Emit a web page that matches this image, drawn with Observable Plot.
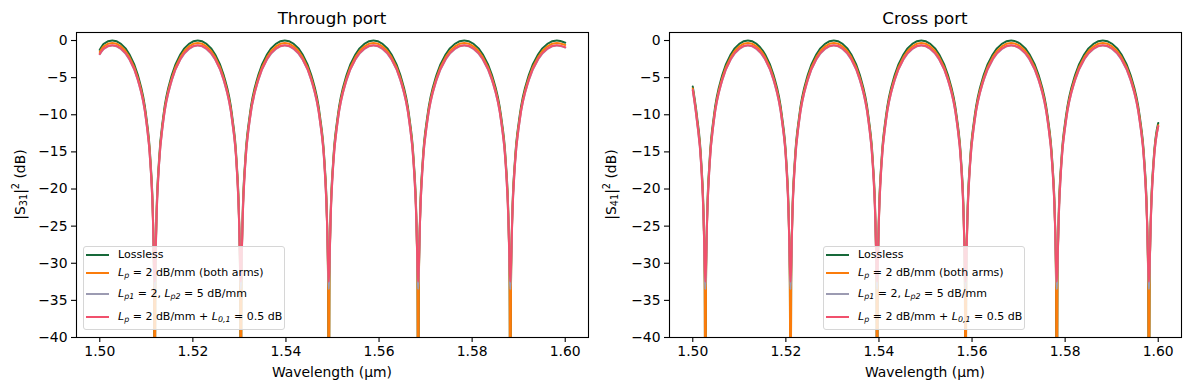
<!DOCTYPE html>
<html>
<head>
<meta charset="utf-8">
<script src="https://cdn.jsdelivr.net/npm/d3@7"></script>
<script src="https://cdn.jsdelivr.net/npm/@observablehq/plot@0.6"></script>
<style>
  html, body { margin: 0; padding: 0; background: #fff; }
  body { font-family: "DejaVu Sans", sans-serif; }
  #wrap { position: relative; width: 1189px; height: 390px; overflow: hidden; }
  .panel { position: absolute; top: 0; }
  .legend { position: absolute; width: 202px; height: 84px; box-sizing: border-box;
            background: rgba(255,255,255,0.8); border: 1px solid #d6d6d6; border-radius: 3px;
            font-size: 11px; color: #000; }
  .legend .row { position: absolute; left: 0; height: 0; }
  .legend .h { position: absolute; left: 2px; width: 23px; height: 2px; top: -1px; }
  .legend .t { position: absolute; left: 34px; top: -7px; white-space: nowrap; line-height: 13px; }
  .legend sub { font-size: 72%; vertical-align: -0.3em; line-height: 0; font-style: italic; }
</style>
</head>
<body>
<div id="wrap"></div>
<script>
// ---------- categories / labels ----------
const seriesNames = ["Lossless", "Lp = 2 dB/mm (both arms)", "Lp1 = 2, Lp2 = 5 dB/mm", "Lp = 2 dB/mm + L0,1 = 0.5 dB"];
const seriesLegendHtml = [
  "Lossless",
  "<i>L</i><sub>p</sub> = 2 dB/mm (both arms)",
  "<i>L</i><sub>p1</sub> = 2, <i>L</i><sub>p2</sub> = 5 dB/mm",
  "<i>L</i><sub>p</sub> = 2 dB/mm + <i>L</i><sub>0,1</sub> = 0.5 dB"
];
const seriesColors = ["#17693a", "#fb7c0b", "#9c9bb2", "#f1506c"];
const panelTitles = ["Through port", "Cross port"];
const yLabelSubs = ["31", "41"];
const xLabel = "Wavelength (\u00b5m)";
const xTicks = [1.50, 1.52, 1.54, 1.56, 1.58, 1.60];
const yTicks = [0, -5, -10, -15, -20, -25, -30, -35, -40];

// ---------- Through port (|S31|^2) ----------
const wlThrough = [
  1.5000, 1.50088, 1.5027, 1.50452, 1.50634, 1.50816, 1.50998, 1.51089, 1.51144, 1.51166,
  1.5118, 1.51194, 1.51217, 1.51273, 1.51365, 1.5155, 1.51735, 1.5192, 1.52105, 1.5229, 1.52475, 1.5266, 1.52845, 1.52938, 1.52993, 1.53016,
  1.5303, 1.53044, 1.53068, 1.53125, 1.53219, 1.53408, 1.53597, 1.53786, 1.53975, 1.54164, 1.54353, 1.54542, 1.54731, 1.54826, 1.54882, 1.54906,
  1.5492, 1.54934, 1.54958, 1.55016, 1.55112, 1.55304, 1.55496, 1.55688, 1.5588, 1.56072, 1.56264, 1.56456, 1.56648, 1.56744, 1.56802, 1.56826,
  1.5684, 1.56855, 1.5688, 1.56939, 1.57038, 1.57236, 1.57434, 1.57632, 1.5783, 1.58028, 1.58226, 1.58424, 1.58622, 1.58721, 1.5878, 1.58805,
  1.5882, 1.58835, 1.5886, 1.5892, 1.5902, 1.5922, 1.5942, 1.5962, 1.5982, 1.6000
];
const s31Lossless = [
  -1.25, -0.44, 0, -0.44, -1.84, -4.62, -10.2, -16.1, -24.0, -32.6,
  -60, -32.6, -24.0, -16.1, -10.2, -4.62, -1.84, -0.44, 0, -0.44, -1.84, -4.62, -10.2, -16.1, -24.0, -32.6,
  -60, -32.6, -24.0, -16.1, -10.2, -4.62, -1.84, -0.44, 0, -0.44, -1.84, -4.62, -10.2, -16.1, -24.0, -32.6,
  -60, -32.6, -24.0, -16.1, -10.2, -4.62, -1.84, -0.44, 0, -0.44, -1.84, -4.62, -10.2, -16.1, -24.0, -32.6,
  -60, -32.6, -24.0, -16.1, -10.2, -4.62, -1.84, -0.44, 0, -0.44, -1.84, -4.62, -10.2, -16.1, -24.0, -32.6,
  -60, -32.6, -24.0, -16.1, -10.2, -4.62, -1.84, -0.44, 0, -0.3
];
const s31LossBoth = [
  -1.55, -0.79, -0.35, -0.79, -2.19, -4.97, -10.55, -16.45, -24.35, -32.95,
  -60, -32.95, -24.35, -16.45, -10.55, -4.97, -2.19, -0.79, -0.35, -0.79, -2.19, -4.97, -10.55, -16.45, -24.35, -32.95,
  -60, -32.95, -24.35, -16.45, -10.55, -4.97, -2.19, -0.79, -0.35, -0.79, -2.19, -4.97, -10.55, -16.45, -24.35, -32.95,
  -60, -32.95, -24.35, -16.45, -10.55, -4.97, -2.19, -0.79, -0.35, -0.79, -2.19, -4.97, -10.55, -16.45, -24.35, -32.95,
  -60, -32.95, -24.35, -16.45, -10.55, -4.97, -2.19, -0.79, -0.35, -0.79, -2.19, -4.97, -10.55, -16.45, -24.35, -32.95,
  -60, -32.95, -24.35, -16.45, -10.55, -4.97, -2.19, -0.79, -0.35, -0.6
];
const s31LossUnequal = [
  -1.85, -1.12, -0.68, -1.12, -2.52, -5.30, -10.88, -16.78, -24.5, -31.0,
  -33.5, -31.0, -24.5, -16.78, -10.88, -5.30, -2.52, -1.12, -0.68, -1.12, -2.52, -5.30, -10.88, -16.78, -24.5, -31.0,
  -33.5, -31.0, -24.5, -16.78, -10.88, -5.30, -2.52, -1.12, -0.68, -1.12, -2.52, -5.30, -10.88, -16.78, -24.5, -31.0,
  -33.5, -31.0, -24.5, -16.78, -10.88, -5.30, -2.52, -1.12, -0.68, -1.12, -2.52, -5.30, -10.88, -16.78, -24.5, -31.0,
  -33.5, -31.0, -24.5, -16.78, -10.88, -5.30, -2.52, -1.12, -0.68, -1.12, -2.52, -5.30, -10.88, -16.78, -24.5, -31.0,
  -33.5, -31.0, -24.5, -16.78, -10.88, -5.30, -2.52, -1.12, -0.68, -0.95
];
const s31LossCoupler = [
  -1.8, -1.07, -0.63, -1.07, -2.47, -5.25, -10.83, -16.73, -24.4, -30.5,
  -32.5, -30.5, -24.4, -16.73, -10.83, -5.25, -2.47, -1.07, -0.63, -1.07, -2.47, -5.25, -10.83, -16.73, -24.4, -30.5,
  -32.5, -30.5, -24.4, -16.73, -10.83, -5.25, -2.47, -1.07, -0.63, -1.07, -2.47, -5.25, -10.83, -16.73, -24.4, -30.5,
  -32.5, -30.5, -24.4, -16.73, -10.83, -5.25, -2.47, -1.07, -0.63, -1.07, -2.47, -5.25, -10.83, -16.73, -24.4, -30.5,
  -32.5, -30.5, -24.4, -16.73, -10.83, -5.25, -2.47, -1.07, -0.63, -1.07, -2.47, -5.25, -10.83, -16.73, -24.4, -30.5,
  -32.5, -30.5, -24.4, -16.73, -10.83, -5.25, -2.47, -1.07, -0.63, -0.9
];

// ---------- Cross port (|S41|^2) ----------
const wlCross = [
  1.5000, 1.5009, 1.5018, 1.50234, 1.50257,
  1.5027, 1.50284, 1.50307, 1.50362, 1.50453, 1.50636, 1.50819, 1.51002, 1.51185, 1.51368, 1.51551, 1.51734, 1.51917, 1.52009, 1.52063, 1.52086,
  1.521, 1.52114, 1.52137, 1.52193, 1.52286, 1.52472, 1.52658, 1.52844, 1.5303, 1.53216, 1.53402, 1.53588, 1.53774, 1.53867, 1.53923, 1.53946,
  1.5396, 1.53974, 1.53998, 1.54055, 1.5415, 1.5434, 1.5453, 1.5472, 1.5491, 1.551, 1.5529, 1.5548, 1.5567, 1.55765, 1.55822, 1.55846,
  1.5586, 1.55875, 1.55899, 1.55958, 1.56056, 1.56252, 1.56448, 1.56644, 1.5684, 1.57036, 1.57232, 1.57428, 1.57624, 1.57722, 1.57781, 1.57805,
  1.5782, 1.57835, 1.5786, 1.57919, 1.58018, 1.58216, 1.58414, 1.58612, 1.5881, 1.59008, 1.59206, 1.59404, 1.59602, 1.59701, 1.5976, 1.59785,
  1.598, 1.59815, 1.5984, 1.599, 1.6000
];
const s41Lossless = [
  -6.2, -10.2, -16.1, -24.0, -32.6,
  -60, -32.6, -24.0, -16.1, -10.2, -4.62, -1.84, -0.44, 0, -0.44, -1.84, -4.62, -10.2, -16.1, -24.0, -32.6,
  -60, -32.6, -24.0, -16.1, -10.2, -4.62, -1.84, -0.44, 0, -0.44, -1.84, -4.62, -10.2, -16.1, -24.0, -32.6,
  -60, -32.6, -24.0, -16.1, -10.2, -4.62, -1.84, -0.44, 0, -0.44, -1.84, -4.62, -10.2, -16.1, -24.0, -32.6,
  -60, -32.6, -24.0, -16.1, -10.2, -4.62, -1.84, -0.44, 0, -0.44, -1.84, -4.62, -10.2, -16.1, -24.0, -32.6,
  -60, -32.6, -24.0, -16.1, -10.2, -4.62, -1.84, -0.44, 0, -0.44, -1.84, -4.62, -10.2, -16.1, -24.0, -32.6,
  -60, -32.6, -24.0, -16.1, -11.1
];
const s41LossBoth = [
  -6.45, -10.55, -16.45, -24.35, -32.95,
  -60, -32.95, -24.35, -16.45, -10.55, -4.97, -2.19, -0.79, -0.35, -0.79, -2.19, -4.97, -10.55, -16.45, -24.35, -32.95,
  -60, -32.95, -24.35, -16.45, -10.55, -4.97, -2.19, -0.79, -0.35, -0.79, -2.19, -4.97, -10.55, -16.45, -24.35, -32.95,
  -60, -32.95, -24.35, -16.45, -10.55, -4.97, -2.19, -0.79, -0.35, -0.79, -2.19, -4.97, -10.55, -16.45, -24.35, -32.95,
  -60, -32.95, -24.35, -16.45, -10.55, -4.97, -2.19, -0.79, -0.35, -0.79, -2.19, -4.97, -10.55, -16.45, -24.35, -32.95,
  -60, -32.95, -24.35, -16.45, -10.55, -4.97, -2.19, -0.79, -0.35, -0.79, -2.19, -4.97, -10.55, -16.45, -24.35, -32.95,
  -60, -32.95, -24.35, -16.45, -11.4
];
const s41LossUnequal = [
  -6.7, -10.88, -16.78, -24.5, -31.0,
  -33.5, -31.0, -24.5, -16.78, -10.88, -5.30, -2.52, -1.12, -0.68, -1.12, -2.52, -5.30, -10.88, -16.78, -24.5, -31.0,
  -33.5, -31.0, -24.5, -16.78, -10.88, -5.30, -2.52, -1.12, -0.68, -1.12, -2.52, -5.30, -10.88, -16.78, -24.5, -31.0,
  -33.5, -31.0, -24.5, -16.78, -10.88, -5.30, -2.52, -1.12, -0.68, -1.12, -2.52, -5.30, -10.88, -16.78, -24.5, -31.0,
  -33.5, -31.0, -24.5, -16.78, -10.88, -5.30, -2.52, -1.12, -0.68, -1.12, -2.52, -5.30, -10.88, -16.78, -24.5, -31.0,
  -33.5, -31.0, -24.5, -16.78, -10.88, -5.30, -2.52, -1.12, -0.68, -1.12, -2.52, -5.30, -10.88, -16.78, -24.5, -31.0,
  -33.5, -31.0, -24.5, -16.78, -11.6
];
const s41LossCoupler = [
  -6.65, -10.83, -16.73, -24.4, -30.5,
  -32.5, -30.5, -24.4, -16.73, -10.83, -5.25, -2.47, -1.07, -0.63, -1.07, -2.47, -5.25, -10.83, -16.73, -24.4, -30.5,
  -32.5, -30.5, -24.4, -16.73, -10.83, -5.25, -2.47, -1.07, -0.63, -1.07, -2.47, -5.25, -10.83, -16.73, -24.4, -30.5,
  -32.5, -30.5, -24.4, -16.73, -10.83, -5.25, -2.47, -1.07, -0.63, -1.07, -2.47, -5.25, -10.83, -16.73, -24.4, -30.5,
  -32.5, -30.5, -24.4, -16.73, -10.83, -5.25, -2.47, -1.07, -0.63, -1.07, -2.47, -5.25, -10.83, -16.73, -24.4, -30.5,
  -32.5, -30.5, -24.4, -16.73, -10.83, -5.25, -2.47, -1.07, -0.63, -1.07, -2.47, -5.25, -10.83, -16.73, -24.4, -30.5,
  -32.5, -30.5, -24.4, -16.73, -11.55
];

// ---------- drawing ----------
const wrap = document.getElementById("wrap");
const fmtY = d => d < 0 ? "\u2212" + Math.abs(d) : String(d);
const fmtX = d3.format(".2f");

function makePanel(wl, seriesValues, cfg) {
  const rows = [];
  seriesValues.forEach((arr, i) => arr.forEach((v, j) => rows.push({wl: wl[j], db: v, s: seriesNames[i]})));
  const chart = Plot.plot({
    width: cfg.width, height: 390,
    marginLeft: cfg.ml, marginRight: cfg.mr, marginTop: 32, marginBottom: 53,
    style: {fontFamily: "'DejaVu Sans', sans-serif", fontSize: "13.9px", color: "#000", background: "transparent"},
    x: {domain: [1.495, 1.605]},
    y: {domain: [-40, 1.08]},
    color: {domain: seriesNames, range: seriesColors},
    marks: [
      Plot.line(rows, {x: "wl", y: "db", z: "s", stroke: "s", strokeWidth: 2, curve: "monotone-x", clip: true}),
      Plot.frame({stroke: "#000", strokeWidth: 1.1}),
      Plot.axisX({ticks: xTicks, tickSize: 5, tickPadding: 4, tickFormat: fmtX, label: null, strokeWidth: 1.1, fontSize: 13.9}),
      Plot.axisY({ticks: yTicks, tickSize: 5, tickPadding: 4, tickFormat: fmtY, label: null, strokeWidth: 1.1, fontSize: 13.9})
    ]
  });
  const svg = d3.select(chart);
  const cx = cfg.ml + (cfg.width - cfg.ml - cfg.mr) / 2;
  svg.append("text").attr("x", cx).attr("y", 18).attr("text-anchor", "middle")
    .attr("dominant-baseline", "central").attr("fill", "#000").style("font-size", "16.7px").text(cfg.title);
  svg.append("text").attr("x", cx).attr("y", 372).attr("text-anchor", "middle")
    .attr("dominant-baseline", "central").attr("fill", "#000").style("font-size", "13.9px").text(xLabel);
  const yl = svg.append("text").attr("transform", `translate(${cfg.ylx},184.5) rotate(-90)`)
    .attr("text-anchor", "middle").attr("dominant-baseline", "central").attr("fill", "#000").style("font-size", "13.9px");
  yl.append("tspan").text("|S");
  yl.append("tspan").attr("baseline-shift", "-3").style("font-size", "9.7px").text(cfg.sub);
  yl.append("tspan").text("|");
  yl.append("tspan").attr("baseline-shift", "5").style("font-size", "9.7px").text("2");
  yl.append("tspan").text(" (dB)");

  const div = document.createElement("div");
  div.className = "panel";
  div.style.left = cfg.left + "px";
  div.appendChild(chart);
  wrap.appendChild(div);

  const lg = document.createElement("div");
  lg.className = "legend";
  lg.style.left = cfg.legendLeft + "px";
  lg.style.top = "246px";
  const rowTops = [9, 26.7, 48.3, 70.7];
  seriesNames.forEach((n, i) => {
    const r = document.createElement("div");
    r.className = "row";
    r.style.top = (rowTops[i] - 1) + "px";
    r.innerHTML = `<span class="h" style="background:${seriesColors[i]}"></span><span class="t">${seriesLegendHtml[i]}</span>`;
    lg.appendChild(r);
  });
  wrap.appendChild(lg);
}

makePanel(wlThrough, [s31Lossless, s31LossBoth, s31LossUnequal, s31LossCoupler],
  {left: 0, width: 594, ml: 76, mr: 6, title: panelTitles[0], sub: yLabelSubs[0], ylx: 20, legendLeft: 83});
makePanel(wlCross, [s41Lossless, s41LossBoth, s41LossUnequal, s41LossCoupler],
  {left: 594, width: 595, ml: 75, mr: 8, title: panelTitles[1], sub: yLabelSubs[1], ylx: 17, legendLeft: 823});
</script>
</body>
</html>
